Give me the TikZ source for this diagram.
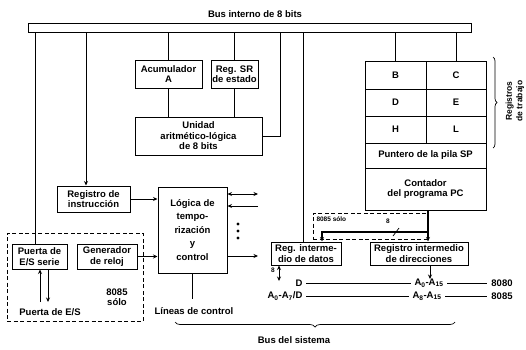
\documentclass[tikz,border=0pt]{standalone}
\usepackage{fontspec}
\setmainfont{Liberation Sans}
\usetikzlibrary{decorations.pathreplacing,arrows.meta,calc}
\begin{document}
\begin{tikzpicture}[x=1pt,y=-1pt,line width=1pt,
  blk/.style={draw,line width=1pt,align=center,inner sep=1pt,font=\fontsize{9.5}{10.5}\selectfont\bfseries},
  lbl/.style={inner sep=0.5pt,font=\fontsize{9.5}{10.5}\selectfont\bfseries},
  sml/.style={inner sep=0pt,font=\fontsize{6.5}{7}\selectfont\bfseries},
  arr/.style={-{Stealth[length=4.5pt,width=4pt]}},
  barr/.style={{Stealth[length=4.5pt,width=4pt]}-{Stealth[length=4.5pt,width=4pt]}},
  dsh/.style={draw,line width=0.9pt,dash pattern=on 4pt off 2.5pt},
  thin/.style={line width=0.7pt}]
\useasboundingbox (0,0) rectangle (526,349);
% internal bus
\node[draw,line width=1pt,minimum width=443pt,minimum height=9pt,inner sep=0pt] (bus) at (249.5,27.5) {};
\node[lbl] (bustitle) at (255,14) {Bus interno de 8 bits};
% named x positions
\coordinate (c35) at (35,0);
\coordinate (c86) at (86,0);
\coordinate (c280) at (280,0);
\coordinate (c303) at (303,0);
\coordinate (c322) at (322,0);
\coordinate (c428) at (428,0);
% boxes
\node[blk,minimum width=67pt,minimum height=28pt] (acc) at (168.5,74) {Acumulador\\A};
\node[blk,minimum width=47pt,minimum height=28pt] (sr) at (234.5,74) {Reg. SR\\de estado};
\node[blk,minimum width=127pt,minimum height=38pt] (alu) at (198.5,136) {Unidad\\aritmético-lógica\\de 8 bits};
\node[blk,minimum width=61pt,minimum height=28pt] (rB) at (395.5,75) {B};
\node[blk,minimum width=60pt,minimum height=28pt] (rC) at (456,75) {C};
\node[blk,minimum width=61pt,minimum height=27pt] (rD) at (395.5,102.5) {D};
\node[blk,minimum width=60pt,minimum height=27pt] (rE) at (456,102.5) {E};
\node[blk,minimum width=61pt,minimum height=27pt] (rH) at (395.5,129.5) {H};
\node[blk,minimum width=60pt,minimum height=27pt] (rL) at (456,129.5) {L};
\node[blk,minimum width=121pt,minimum height=25pt] (sp) at (425.5,155.5) {Puntero de la pila SP};
\node[blk,minimum width=121pt,minimum height=42pt] (pc) at (425.5,189) {Contador\\del programa PC};
\draw[thin,decorate,decoration={brace,amplitude=4pt}] (493,57) -- (493,148);
\node[lbl,rotate=90,align=center,font=\fontsize{8.5}{10.5}\selectfont\bfseries] (rtrab) at (515,101) {Registros\\de trabajo};
\node[blk,minimum width=73pt,minimum height=26pt] (ir) at (93.5,199) {Registro de\\instrucción};
\node[blk,minimum width=69pt,minimum height=86pt,font=\fontsize{9.5}{13.5}\selectfont\bfseries] (logic) at (192.5,230) {Lógica de\\tempo-\\rización\\y\\control};
\node[dsh,minimum width=136pt,minimum height=88pt] (d1) at (75,277) {};
\node[blk,minimum width=55pt,minimum height=25pt] (ser) at (39.5,256.5) {Puerta de\\E/S serie};
\node[blk,minimum width=60pt,minimum height=25pt] (gen) at (107,256.5) {Generador\\de reloj};
\node[lbl] (pes) at (50,312) {Puerta de E/S};
\node[lbl,align=center] (solo1) at (117,297) {8085\\sólo};
\node[lbl] (lctl) at (194,311) {Líneas de control};
\node[dsh,minimum width=115pt,minimum height=26pt] (d2) at (370.5,226) {};
\node[sml,anchor=west] (solo2) at (316,219) {8085 sólo};
\node[sml] (ocho2) at (388,221) {8};
\node[blk,minimum width=70pt,minimum height=23pt] (dreg) at (306,253.5) {Reg. interme-\\dio de datos};
\node[blk,minimum width=98pt,minimum height=23pt] (areg) at (419,253.5) {Registro intermedio\\de direcciones};
% bus connections
\draw (bus.south -| c35) -- (ser.north -| c35);
\draw[arr] (bus.south -| c86) -- (ir.north -| c86);
\draw (bus.south -| acc.north) -- (acc.north);
\draw (acc.south) -- (alu.north -| acc.south);
\draw (bus.south -| sr.north) -- (sr.north);
\draw (sr.south) -- (alu.north -| sr.south);
\draw (bus.south -| c280) |- (alu.east);
\draw (bus.south -| c303) -- (dreg.north -| c303);
\draw (bus.south -| rB.north) -- (rB.north);
\draw (bus.south -| rC.north) -- (rC.north);
% control unit
\draw[arr] (ir.east) -- (ir.east -| logic.west);
\draw[arr] (gen.east) -- (gen.east -| logic.west);
\coordinate (o1) at (258,194);
\coordinate (o2) at (258,206);
\coordinate (o3) at (258,256);
\draw[barr] (logic.east |- o1) -- (o1);
\draw[arr] (o2) -- (logic.east |- o2);
\draw[arr] (logic.east |- o3) -- (o3);
\fill (238,224) circle (1.7pt);
\fill (238,231) circle (1.7pt);
\fill (238,238) circle (1.7pt);
\coordinate (lc) at (192,299);
\draw (logic.south -| lc) -- (lc);
% serial port
\coordinate (s1) at (40,302);
\coordinate (s2) at (48,302);
\draw[arr] (s1) -- (ser.south -| s1);
\draw[arr] (ser.south -| s2) -- (s2);
% address path
\draw[arr,line width=1.3pt] (pc.south -| c428) -- (areg.north -| c428);
\coordinate (j1) at (428,232);
\draw[arr,line width=1.3pt] (j1) -| (dreg.north -| c322);
\draw[thin] (393,236) -- (399,228);
% system bus lines
\coordinate (db) at (279,281);
\draw[barr] (dreg.south -| db) -- (db);
\node[sml] (ocho1) at (273,270) {8};
\coordinate (ab) at (430,279);
\draw[arr] (areg.south -| ab) -- (ab);
\node[lbl] (tD) at (299,283) {D};
\node[lbl] (tA1) at (429,283) {A\textsubscript{0}-A\textsubscript{15}};
\node[lbl] (t8080) at (502,283) {8080};
\node[lbl] (tAD) at (285,296) {A\textsubscript{0}-A\textsubscript{7}/D};
\node[lbl] (tA2) at (427,296) {A\textsubscript{8}-A\textsubscript{15}};
\node[lbl] (t8085) at (502,296) {8085};
\draw[thin,shorten <=3pt,shorten >=3pt] (tD) -- (tA1);
\draw[thin,shorten <=3pt,shorten >=3pt] (tA1) -- (t8080);
\draw[thin,shorten <=3pt,shorten >=3pt] (tAD) -- (tA2);
\draw[thin,shorten <=3pt,shorten >=3pt] (tA2) -- (t8085);
\draw[thin,decorate,decoration={brace,amplitude=5pt}] (455,322) -- (175,322);
\node[lbl] (bsis) at (294,340) {Bus del sistema};
\end{tikzpicture}
\end{document}
